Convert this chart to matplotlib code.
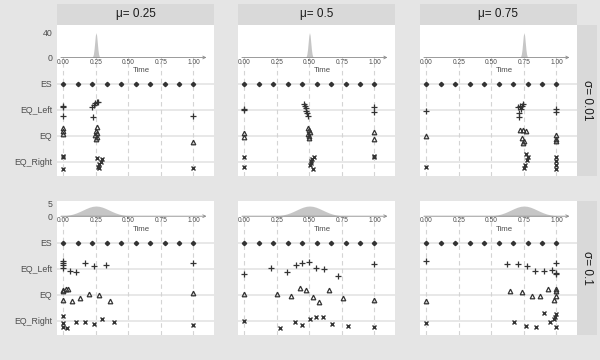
import matplotlib.pyplot as plt
import numpy as np

plt.rcParams['font.family'] = ['Liberation Sans', 'DejaVu Sans']

mus = [0.25, 0.5, 0.75]
sigmas = [0.01, 0.1]
rows = ['ES', 'EQ_Left', 'EQ', 'EQ_Right']
time_ticks = [0.0, 0.25, 0.5, 0.75, 1.0]

# ES points (same in every panel)
es_t = [0.0, 0.111, 0.222, 0.333, 0.444, 0.556, 0.667, 0.778, 0.889, 1.0]

# panel order: sigma=0.01 (mu .25, .5, .75), sigma=0.1 (mu .25, .5, .75)
eql_t = [
    [0, 0, 0, 0.22, 0.235, 0.245, 0.255, 0.265, 0.23, 1.0],
    [0, 0, 0.46, 0.465, 0.47, 0.475, 0.48, 0.49, 1.0, 1.0],
    [0, 0.705, 0.718, 0.731, 0.744, 0.725, 0.715, 0.71, 1.0, 1.0],
    [0, 0, 0, 0, 0.049, 0.1, 0.162, 0.238, 0.328, 1.0],
    [0, 0.207, 0.326, 0.393, 0.443, 0.494, 0.552, 0.61, 0.722, 1.0],
    [0, 0.618, 0.705, 0.775, 0.836, 0.905, 0.967, 1.0, 1.0, 1.0],
]
eql_dy = [
    [0.13, 0.15, -0.22, 0.12, 0.2, 0.28, 0.32, 0.3, -0.28, -0.22],
    [0.04, 0.0, 0.22, 0.15, 0.06, -0.02, -0.1, -0.22, 0.13, -0.09],
    [-0.04, 0.13, 0.15, 0.17, 0.22, 0.04, -0.13, -0.26, 0.05, -0.08],
    [0.31, 0.22, 0.13, 0.05, -0.1, -0.13, 0.22, 0.09, 0.15, 0.22],
    [-0.19, 0.05, -0.11, 0.14, 0.23, 0.27, 0.05, -0.01, -0.27, 0.2],
    [0.3, 0.19, 0.18, 0.09, -0.07, -0.07, -0.03, 0.22, -0.15, -0.2],
]

eq_t = [
    [0, 0, 0, 0.255, 0.25, 0.26, 0.245, 0.255, 0.25, 1.0],
    [0, 0, 0.485, 0.497, 0.505, 0.49, 0.495, 0.5, 1.0, 1.0],
    [0, 0.718, 0.743, 0.764, 0.738, 0.749, 0.745, 1.0, 1.0, 1.0],
    [0, 0.018, 0.034, 0, 0, 0.069, 0.128, 0.198, 0.27, 0.359, 1.0],
    [0, 0.247, 0.357, 0.425, 0.477, 0.528, 0.577, 0.648, 0.758, 1.0],
    [0, 0.646, 0.737, 0.808, 0.877, 0.936, 1.0, 1.0, 0.982, 1.0],
]
eq_dy = [
    [0.29, 0.18, 0.08, 0.33, 0.2, 0.12, 0.05, -0.05, -0.12, -0.22],
    [0.1, -0.03, 0.3, 0.24, 0.16, 0.07, -0.02, -0.06, 0.17, -0.12],
    [0.0, 0.23, 0.23, 0.19, -0.09, -0.19, -0.28, 0.05, -0.1, -0.2],
    [0.19, 0.22, 0.22, 0.13, -0.2, -0.22, -0.13, 0.03, 0.0, -0.22, 0.06],
    [0.04, 0.04, -0.06, 0.26, 0.19, -0.1, -0.26, 0.18, -0.13, -0.19],
    [-0.22, 0.15, 0.1, -0.06, -0.03, 0.23, 0.23, 0.16, -0.19, -0.05],
]

eqr_t = [
    [0, 0, 0, 0.259, 0.297, 0.285, 0.272, 0.264, 0.27, 1.0],
    [0, 0, 0.536, 0.523, 0.515, 0.51, 0.505, 0.53, 1.0, 1.0],
    [0, 0.764, 0.782, 0.774, 0.756, 0.749, 1.0, 1.0, 1.0, 1.0],
    [0, 0, 0, 0.025, 0.098, 0.167, 0.231, 0.3, 0.39, 1.0],
    [0, 0.276, 0.388, 0.445, 0.503, 0.553, 0.604, 0.674, 0.794, 1.0],
    [0, 0.674, 0.764, 0.846, 0.905, 0.954, 0.982, 1.0, 0.992, 1.0],
]
eqr_dy = [
    [0.2, 0.22, -0.27, 0.17, 0.12, 0.01, -0.09, -0.18, -0.24, -0.22],
    [0.18, -0.2, 0.2, 0.12, 0.04, -0.05, -0.12, -0.27, 0.24, 0.18],
    [-0.18, 0.29, 0.21, 0.08, -0.1, -0.25, 0.2, 0.04, -0.12, -0.27],
    [0.19, -0.09, -0.22, -0.26, -0.04, -0.04, -0.12, 0.08, -0.03, -0.15],
    [0.0, -0.29, -0.03, -0.14, 0.07, 0.14, 0.15, -0.12, -0.19, -0.23],
    [-0.09, -0.05, -0.18, -0.24, 0.29, -0.03, 0.09, 0.27, 0.17, -0.22],
]

# density shapes (offset from mu, height)
narrow_dt = [-0.03, -0.025, -0.02, -0.015, -0.01, -0.005, 0.0,
             0.005, 0.01, 0.015, 0.02, 0.025, 0.03]
narrow_d = [0.44, 1.75, 5.40, 12.95, 24.20, 35.21, 39.89,
            35.21, 24.20, 12.95, 5.40, 1.75, 0.44]
wide_dt = [-0.3, -0.275, -0.25, -0.225, -0.2, -0.175, -0.15, -0.125, -0.1, -0.075, -0.05, -0.025, 0.0,
           0.025, 0.05, 0.075, 0.1, 0.125, 0.15, 0.175, 0.2, 0.225, 0.25, 0.275, 0.3]
wide_d = [0.044, 0.091, 0.175, 0.317, 0.540, 0.863, 1.295, 1.826, 2.420, 3.011, 3.521, 3.867, 3.989,
          3.867, 3.521, 3.011, 2.420, 1.826, 1.295, 0.863, 0.540, 0.317, 0.175, 0.091, 0.044]
dens_labels = [[0, 40], [0, 5]]

W, H = 600, 360
fig = plt.figure(figsize=(6, 3.6), dpi=100, facecolor='#e5e5e5')

col_left = [57, 238, 420]
col_w = 157
row_top = [25, 200.7]
row_h = [151, 134.3]
ylims = [(0.46, 6.27), (0.46, 5.615)]
dens_scale = [0.024, 0.098]
base = 5.02
dark = '#333333'
txt = '#4d4d4d'

def add_px_axes(x, y, w, h):
    return fig.add_axes([x / W, 1 - (y + h) / H, w / W, h / H])

for r in range(2):
    for c in range(3):
        p = r * 3 + c
        ax = add_px_axes(col_left[c], row_top[r], col_w, row_h[r])
        ax.set_facecolor('white')
        for s in ax.spines.values():
            s.set_visible(False)
        ax.set_xlim(-0.05, 1.158)
        ax.set_ylim(*ylims[r])
        ax.set_xticks([])

        # row guide lines
        for y in [1, 2, 3, 4]:
            ax.axhline(y, color='#e2e2e2', lw=1.1, zorder=1)
        ax.vlines(time_ticks, ylims[r][0], base, colors='#d4d4d4',
                  linestyles=(0, (4, 3)), lw=0.8, zorder=1)

        # density inset
        if r == 0:
            dt, dd = np.array(narrow_dt), np.array(narrow_d)
        else:
            dt, dd = np.array(wide_dt), np.array(wide_d)
        tt = mus[c] + dt
        keep = (tt >= -1e-9) & (tt <= 1 + 1e-9)
        ax.fill_between(tt[keep], base, base + dd[keep] * dens_scale[r],
                        color='#c6c6c6', lw=0, zorder=2)
        ax.annotate('', xy=(1.10, base), xytext=(-0.02, base),
                    arrowprops=dict(arrowstyle='->', color='#8a8a8a', lw=0.6,
                                    mutation_scale=5, shrinkA=0, shrinkB=0),
                    zorder=3)
        for t in time_ticks:
            ax.text(t, base - 4.6 / 26, '%.2f' % t, ha='center', va='center',
                    fontsize=4.8, color=txt)
        ax.text(0.6, base - 13.5 / 26, 'Time', ha='center', va='center',
                fontsize=5.6, color=txt)

        # points
        ax.plot(es_t, [4] * len(es_t), 'D', ms=2.2, color=dark, zorder=4)
        ax.plot(eql_t[p], 3 + np.array(eql_dy[p]), '+', ms=5, mew=0.9,
                color=dark, zorder=4)
        ax.plot(eq_t[p], 2 + np.array(eq_dy[p]), '^', ms=3.3, mew=0.9,
                mfc='none', mec=dark, zorder=4)
        ax.plot(eqr_t[p], 1 + np.array(eqr_dy[p]), 'x', ms=3.3, mew=1.0,
                color=dark, zorder=4)

        ylab = [base + v * dens_scale[r] for v in dens_labels[r]]
        ax.set_yticks([1, 2, 3, 4] + ylab)
        ax.tick_params(axis='y', length=0, pad=3.5, labelsize=6.3, labelcolor=txt)
        if c == 0:
            ax.set_yticklabels(rows[::-1] + [str(v) for v in dens_labels[r]])
        else:
            ax.set_yticklabels([])

        # top strips
        if r == 0:
            st = add_px_axes(col_left[c], 4, col_w, 21)
            st.set_facecolor('#d9d9d9')
            st.set_xticks([])
            st.set_yticks([])
            for s in st.spines.values():
                s.set_visible(False)
            st.text(0.5, 0.5, '\u03bc= %s' % mus[c], ha='center', va='center',
                    fontsize=8.5, color='#1a1a1a', transform=st.transAxes)

    # right strips
    rs = add_px_axes(577, row_top[r], 20, row_h[r])
    rs.set_facecolor('#d9d9d9')
    rs.set_xticks([])
    rs.set_yticks([])
    for s in rs.spines.values():
        s.set_visible(False)
    rs.text(0.5, 0.5, '\u03c3= %s' % sigmas[r], ha='center', va='center',
            rotation=270, fontsize=8.5, color='#1a1a1a', transform=rs.transAxes)

fig.savefig('out.png', dpi=100, facecolor=fig.get_facecolor())
